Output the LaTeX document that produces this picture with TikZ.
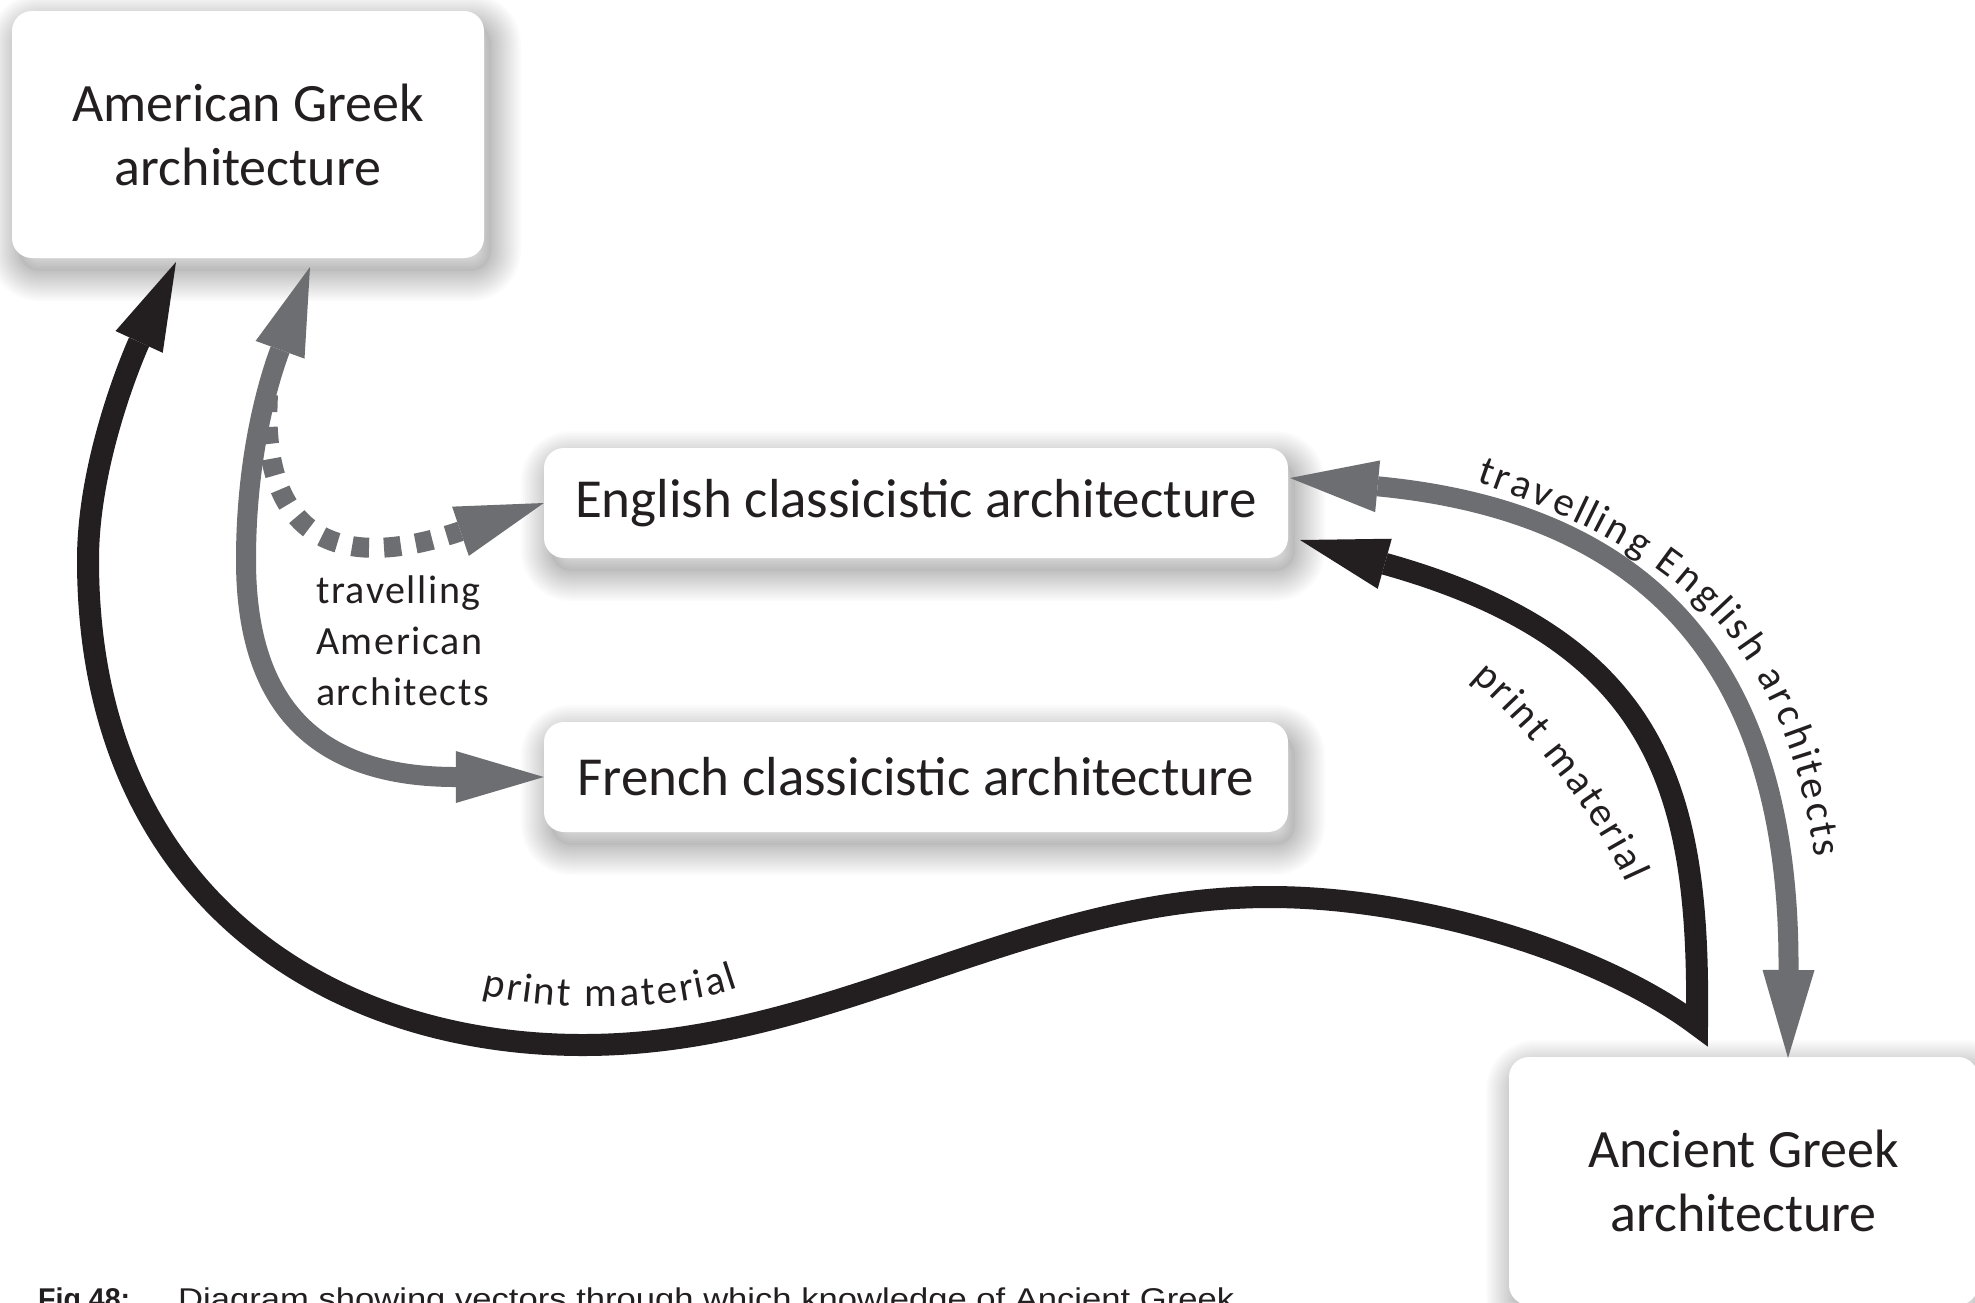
\documentclass[tikz,border=0pt]{standalone}
\usepackage{fontspec}
\usepackage{graphicx}
\setmainfont{Carlito}
\newfontfamily\lblfamily[LetterSpace=4]{Carlito}
\newfontfamily\capfamily{Liberation Sans}
\usetikzlibrary{arrows.meta,decorations.text}
\definecolor{ink}{HTML}{231F20}
\definecolor{ash}{HTML}{6D6E71}
\newcommand\boxfnt{\fontsize{54}{64}\selectfont}
\newcommand\wideboxfnt{\fontsize{55}{64}\selectfont}
\newcommand\lblfnt{\lblfamily\fontsize{40}{51}\selectfont}
\newcommand\pathfnt{\fontsize{41}{50}\selectfont}
\begin{document}
\begin{tikzpicture}[x=1pt,y=-1pt,
  >={Triangle[length=88pt,width=52pt,line width=0pt]},
  shadowring/.style={preaction={draw=black,draw opacity=0.016,line width=#1,line join=round,transform canvas={shift={(7pt,-13pt)}}}},
  diabox/.style={rectangle, rounded corners=20pt, fill=white, inner sep=0pt, text=ink, font=\boxfnt, align=center,
     preaction={fill=black,fill opacity=0.03,transform canvas={shift={(7pt,-13pt)}}},
     shadowring=60pt, shadowring=56pt, shadowring=52pt,
     shadowring=48pt, shadowring=44pt, shadowring=40pt, shadowring=36pt,
     shadowring=32pt, shadowring=28pt, shadowring=24pt, shadowring=20pt,
     shadowring=16pt, shadowring=12pt, shadowring=8pt, shadowring=4pt},
  blk/.style={draw=ink, line width=22pt, line join=miter},
  gry/.style={draw=ash, line width=20pt},
  lbl/.style={inner sep=0pt, text=ink, font=\lblfnt, align=left},
  pathlbl/.style={decorate, decoration={text effects along path, text={#1},
     text effects/.cd, text along path, fit text to path,
     every character/.style={font=\pathfnt, text=ink}}},
  captxt/.style={anchor=base west, inner sep=0pt, text=ink}
]
\fill[white] (0,0) rectangle (1975,1302);
\useasboundingbox (0,0) rectangle (1975,1302);

% boxes
\node[diabox, minimum width=472pt, minimum height=247pt] (amer) at (248,134.5) {American Greek\\architecture};
\node[diabox, font=\wideboxfnt, minimum width=744pt, minimum height=110pt] (eng) at (916,503) {English classicistic architecture};
\node[diabox, font=\wideboxfnt, minimum width=744pt, minimum height=110pt] (fre) at (916,777) {French classicistic architecture};
\node[diabox, minimum width=469pt, minimum height=248pt] (anc) at (1743.5,1181) {Ancient Greek\\architecture};

% connector end points
\coordinate (engB) at (1300,540);
\coordinate (engG) at (1290,478);
\coordinate (amB) at (176,262);
\coordinate (amG) at (310,267);
\coordinate (ancB) at (1697,1025);
\coordinate (ancG) at (1788,1058);
\coordinate (split) at (268,395);

% black print material arrows (English <- Ancient -> American)
\draw[blk, <->] (engB) .. controls (1660,641) and (1700,790) .. (ancB)
   .. controls (1601,953) and (1420,897) .. (1270,897)
   .. controls (1020,897) and (833,1045) .. (583,1045)
   .. controls (323,1045) and (88,890) .. (88,560)
   .. controls (88,460) and (134,353) .. (amB);

% gray travelling American architects
\draw[gry, <->] (amG) .. controls (276,361) and (246,440) .. (246,560)
   .. controls (246,710) and (320,777) .. (fre.west);
\draw[gry, dash pattern=on 17pt off 15pt, ->] (split) .. controls (262,500) and (302,585) .. (eng.west);

% gray travelling English architects
\draw[gry, <->] (engG) .. controls (1680,515) and (1790,700) .. (ancG);

% labels
\node[lbl, anchor=north west] (travAm) at (316,576) {travelling\\American\\architects};
\path[pathlbl={print material}] (482,994) .. controls (550,1012) and (670,1012) .. (738,988);
\path[pathlbl={travelling English architects}] (1476,482) .. controls (1682,553) and (1783,641) .. (1815,857);
\path[pathlbl={print material}] (1471,679) .. controls (1525,724) and (1598,819) .. (1626,883);

% caption (cut by the page edge)
\node[captxt] (figno) at (38,1309) {\resizebox{92pt}{\height}{\capfamily\fontsize{30}{36}\selectfont\bfseries Fig 48:}};
\node[captxt] (figtxt) at (178,1309) {\resizebox{1056pt}{\height}{\capfamily\fontsize{30}{36}\selectfont Diagram showing vectors through which knowledge of Ancient Greek}};
\end{tikzpicture}
\end{document}
